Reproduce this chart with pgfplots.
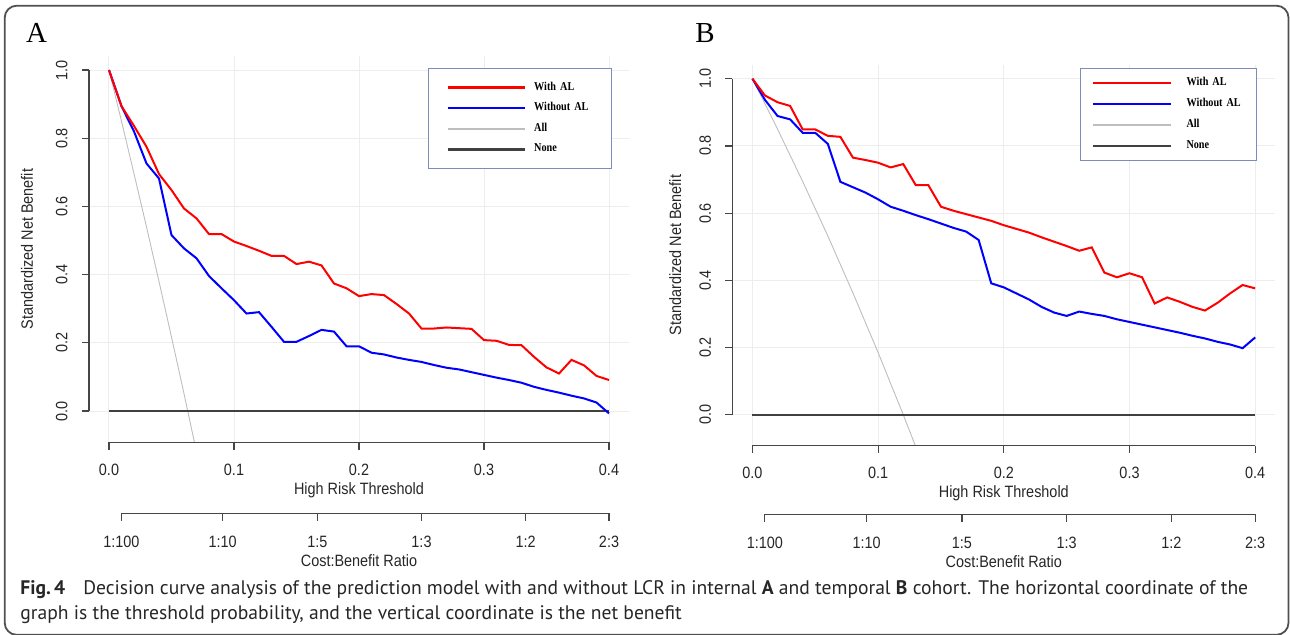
\documentclass[border=0pt]{standalone}
\usepackage{pgfplots}
\pgfplotsset{compat=1.18}
\usepackage{pgfplotstable}
\usepackage{fontspec}
\setmainfont{Liberation Sans}
\newfontfamily\axfont[FakeStretch=0.88]{Liberation Sans}
\newfontfamily\legfont[FakeStretch=0.85]{Liberation Serif}
\newfontfamily\panfont{Liberation Serif}
\newfontfamily\capfont{PT Sans}

\definecolor{legbox}{RGB}{125,140,185}
\definecolor{allgray}{RGB}{190,190,190}
\definecolor{nonegray}{RGB}{64,64,64}
\definecolor{axgray}{RGB}{70,70,70}
\definecolor{framegray}{RGB}{80,80,80}

% internal cohort (A): threshold, with AL, without AL
\pgfplotstableread{
t     with    without
0.00  1.000   1.000
0.01  0.894   0.894
0.02  0.836   0.820
0.03  0.775   0.726
0.04  0.695   0.682
0.05  0.648   0.516
0.06  0.594   0.477
0.07  0.565   0.448
0.08  0.519   0.396
0.09  0.519   0.360
0.10  0.497   0.325
0.11  0.484   0.286
0.12  0.470   0.290
0.13  0.455   0.247
0.14  0.455   0.203
0.15  0.431   0.203
0.16  0.438   0.220
0.17  0.427   0.238
0.18  0.374   0.233
0.19  0.360   0.190
0.20  0.337   0.190
0.21  0.343   0.171
0.22  0.340   0.166
0.23  0.314   0.157
0.24  0.286   0.150
0.25  0.242   0.144
0.26  0.242   0.135
0.27  0.245   0.127
0.28  0.243   0.122
0.29  0.241   0.114
0.30  0.208   0.106
0.31  0.206   0.098
0.32  0.194   0.091
0.33  0.193   0.083
0.34  0.159   0.071
0.35  0.128   0.062
0.36  0.110   0.054
0.37  0.150   0.045
0.38  0.134   0.037
0.39  0.103   0.025
0.40  0.091  -0.007
}\dataA

% temporal cohort (B)
\pgfplotstableread{
t     with    without
0.00  1.000   1.000
0.01  0.950   0.937
0.02  0.930   0.889
0.03  0.919   0.879
0.04  0.849   0.839
0.05  0.849   0.839
0.06  0.830   0.806
0.07  0.827   0.693
0.08  0.765   0.677
0.09  0.758   0.661
0.10  0.750   0.641
0.11  0.736   0.619
0.12  0.746   0.607
0.13  0.683   0.594
0.14  0.683   0.582
0.15  0.619   0.569
0.16  0.607   0.556
0.17  0.597   0.545
0.18  0.587   0.520
0.19  0.577   0.391
0.20  0.564   0.379
0.21  0.553   0.361
0.22  0.542   0.343
0.23  0.528   0.321
0.24  0.515   0.304
0.25  0.502   0.294
0.26  0.488   0.307
0.27  0.498   0.300
0.28  0.423   0.294
0.29  0.409   0.284
0.30  0.421   0.276
0.31  0.409   0.268
0.32  0.331   0.260
0.33  0.349   0.252
0.34  0.336   0.244
0.35  0.321   0.235
0.36  0.310   0.227
0.37  0.333   0.217
0.38  0.361   0.209
0.39  0.386   0.198
0.40  0.376   0.230
}\dataB

% treat-all curves
\pgfplotstableread{
t     nb
0.00  1.000
0.01  0.850
0.02  0.696
0.03  0.540
0.04  0.380
0.05  0.217
0.06  0.051
0.07 -0.120
}\allA
\pgfplotstableread{
t     nb
0.00  1.000
0.02  0.850
0.04  0.694
0.06  0.532
0.08  0.362
0.10  0.185
0.12  0.000
0.13 -0.096
}\allB

\newcommand\axsize{\axfont\fontsize{8.2}{9}\selectfont}

\pgfplotsset{
  dca/.style={
    scale only axis, anchor=south west,
    xmin=-0.016, xmax=0.416, ymin=-0.092, ymax=1.042,
    axis x line*=bottom, axis y line*=left,
    axis line style={draw=none},
    clip mode=individual,
    tick align=outside, major tick length=3.6pt,
    tick style={axgray, line width=0.6pt},
    grid=major, major grid style={black!7, line width=0.5pt},
    xtick={0,0.1,0.2,0.3,0.4}, xticklabels={0.0,0.1,0.2,0.3,0.4},
    ytick={0,0.2,0.4,0.6,0.8,1}, yticklabels={0.0,0.2,0.4,0.6,0.8,1.0},
    ticklabel style={font=\axsize, text=black!85},
    xticklabel style={anchor=center},
    yticklabel style={anchor=center, rotate=90},
    xticklabel shift=10.1pt, yticklabel shift=10pt,
    xlabel={High Risk Threshold}, ylabel={Standardized Net Benefit},
    every axis x label/.style={at={(axis description cs:0.5,0)}, anchor=center,
      yshift=-24pt, font=\axsize, text=black!85},
    every axis y label/.style={at={(axis description cs:0,0.5)}, xshift=-#1,
      rotate=90, anchor=center, font=\axsize, text=black!85},
    legend cell align=left,
    legend image code/.code={\draw[##1, line width=1.2pt] (0pt,0pt) -- (38.8pt,0pt);},
  },
  cb/.style={
    scale only axis, anchor=south west, height=5pt,
    xmin=-0.016, xmax=0.416, ymin=0, ymax=1,
    hide y axis, axis x line*=bottom, axis line style={draw=none},
    clip mode=individual,
    tick align=outside, major tick length=3.6pt,
    tick style={axgray, line width=0.6pt},
    xtick={0.0099,0.0909,0.1667,0.25,0.3333,0.4},
    xticklabels={1:100,1:10,1:5,1:3,1:2,2:3},
    ticklabel style={font=\axsize, text=black!85},
    xticklabel style={anchor=center}, xticklabel shift=10.6pt,
    xlabel={Cost:Benefit Ratio},
    every axis x label/.style={at={(axis description cs:0.5,0)}, anchor=center,
      yshift=-23.9pt, font=\axsize, text=black!85},
  },
}

\begin{document}
\begin{tikzpicture}[x=0.5pt,y=-0.5pt]
\useasboundingbox (0,0) rectangle (1290,634);

\begin{scope}
\clip (0,0) rectangle (1290,634);
\draw[framegray, line width=0.9pt, rounded corners=6pt] (4.7,5.7) rectangle (1288.5,634.8);
\end{scope}

\node[font=\panfont\fontsize{14.5}{16}\selectfont] at (36.5,33) {A};
\node[font=\panfont\fontsize{14.5}{16}\selectfont] at (705,33) {B};

% ---------------- panel A ----------------
\begin{axis}[dca=31pt, at={(44.5pt,-221.2pt)}, width=270pt, height=193.35pt,
  legend style={at={(0.6278,0.9682)}, anchor=north west, draw=legbox,
    line width=0.5pt, fill=white, inner xsep=9pt, inner ysep=4.3pt,
    row sep=0pt, column sep=3.85pt,
    font=\legfont\bfseries\fontsize{6}{7}\selectfont,
    nodes={inner sep=0pt, minimum height=10.33pt, text width=29.5pt, align=left}}]
\addplot[allgray, line width=0.45pt, forget plot] table[x=t, y=nb] {\allA};
\addplot[nonegray, line width=1pt, forget plot] coordinates {(0,0) (0.4,0)};
\addplot[blue, line width=1pt, forget plot] table[x=t, y=without] {\dataA};
\addplot[red, line width=1pt, forget plot] table[x=t, y=with] {\dataA};
\addlegendimage{red}
\addlegendentry{With AL}
\addlegendimage{blue}
\addlegendentry{Without AL}
\addlegendimage{allgray}
\addlegendentry{All}
\addlegendimage{nonegray}
\addlegendentry{None}
\draw[axgray, line width=0.6pt] (axis cs:0,-0.092) -- (axis cs:0.4,-0.092);
\draw[axgray, line width=0.6pt] (axis cs:-0.016,0) -- (axis cs:-0.016,1);
\end{axis}

\begin{axis}[cb, at={(44.5pt,-256.65pt)}, width=270pt]
\draw[axgray, line width=0.6pt] (axis cs:0.0099,0) -- (axis cs:0.4,0);
\end{axis}

% ---------------- panel B ----------------
\begin{axis}[dca=28.5pt, at={(366.15pt,-222.8pt)}, width=271.5pt, height=190.5pt,
  legend style={at={(0.6394,0.9903)}, anchor=north west, draw=legbox,
    line width=0.5pt, fill=white, inner xsep=6pt, inner ysep=1.9pt,
    row sep=0pt, column sep=7.25pt,
    font=\legfont\bfseries\fontsize{6}{7}\selectfont,
    nodes={inner sep=0pt, minimum height=10.5pt, text width=29pt, align=left}}]
\addplot[allgray, line width=0.45pt, forget plot] table[x=t, y=nb] {\allB};
\addplot[nonegray, line width=1pt, forget plot] coordinates {(0,0) (0.4,0)};
\addplot[blue, line width=1pt, forget plot] table[x=t, y=without] {\dataB};
\addplot[red, line width=1pt, forget plot] table[x=t, y=with] {\dataB};
\addlegendimage{red}
\addlegendentry{With AL}
\addlegendimage{blue}
\addlegendentry{Without AL}
\addlegendimage{allgray}
\addlegendentry{All}
\addlegendimage{nonegray}
\addlegendentry{None}
\draw[axgray, line width=0.6pt] (axis cs:0,-0.092) -- (axis cs:0.4,-0.092);
\draw[axgray, line width=0.6pt] (axis cs:-0.016,0) -- (axis cs:-0.016,1);
\end{axis}

\begin{axis}[cb, at={(366.15pt,-257.15pt)}, width=271.5pt]
\draw[axgray, line width=0.6pt] (axis cs:0.0099,0) -- (axis cs:0.4,0);
\end{axis}

% ---------------- caption ----------------
\node[anchor=base west, inner sep=0pt, font=\capfont\fontsize{9.8}{12}\selectfont, text=black!85]
  at (20,594) {\textbf{Fig.\,4}\hspace{9pt}Decision curve analysis of the prediction model with and without LCR in internal \textbf{A} and temporal \textbf{B} cohort. The horizontal coordinate of the};
\node[anchor=base west, inner sep=0pt, font=\capfont\fontsize{9.8}{12}\selectfont, text=black!85]
  at (20,619) {graph is the threshold probability, and the vertical coordinate is the net benefit};
\end{tikzpicture}
\end{document}
